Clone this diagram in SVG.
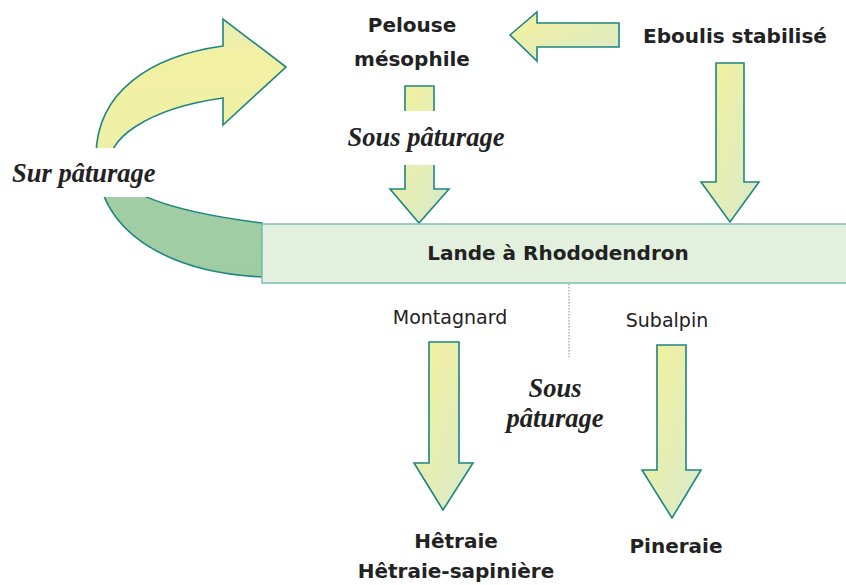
<svg xmlns="http://www.w3.org/2000/svg" width="846" height="585" viewBox="0 0 846 585">
  <defs>
    <linearGradient id="gArrow" x1="0" y1="0" x2="1" y2="1">
      <stop offset="0" stop-color="#f5f19a"/>
      <stop offset="1" stop-color="#d8eacb"/>
    </linearGradient>
    <linearGradient id="gCurve" gradientUnits="userSpaceOnUse" x1="0" y1="19" x2="0" y2="277">
      <stop offset="0" stop-color="#e8edb8"/>
      <stop offset="0.15" stop-color="#f2f0a2"/>
      <stop offset="0.5" stop-color="#eef0a8"/>
      <stop offset="0.56" stop-color="#a2cfa6"/>
      <stop offset="1" stop-color="#a0cca4"/>
    </linearGradient>
    <style>
      .arr { fill: url(#gArrow); stroke: #1d8680; stroke-width: 1.6; stroke-linejoin: miter; }
      .curve { fill: url(#gCurve); stroke: #1d8680; stroke-width: 1.6; }
      .box { fill: #e3f0dd; stroke: #86c2b2; stroke-width: 1.6; }
      .lbl { font-family: "DejaVu Sans", sans-serif; font-weight: bold; font-size: 20px; fill: #222; text-anchor: middle; }
      .small { font-family: "DejaVu Sans", sans-serif; font-size: 19px; fill: #222; text-anchor: middle; }
      .it { font-family: "Liberation Serif", "Times New Roman", serif; font-weight: bold; font-style: italic; font-size: 26.5px; fill: #222; }
      .mask { fill: #ffffff; }
      .dot { stroke: #888; stroke-width: 1; stroke-dasharray: 1.5 1.5; fill: none; }
    </style>
  </defs>

  <g id="connectors">
    <!-- curved Sur pâturage arrow -->
    <path class="curve" d="M 286,67 L 223,19 L 223,46 C 150,56 97,92 96,155 C 97,240 180,273 262,277 L 262,223 C 190,214 125,198 112,170 C 100,140 150,108 223,98 L 223,125 Z"/>
    <rect class="mask" x="4" y="148" width="160" height="49"/>
    <text class="it" x="12" y="182">Sur pâturage</text>

    <!-- Eboulis -> Pelouse -->
    <path class="arr" d="M 510,35 L 537,12 L 537,23 L 619,23 L 619,47 L 537,47 L 537,61 Z"/>

    <!-- Pelouse -> Lande -->
    <path class="arr" d="M 405,86 L 434,86 L 434,189 L 449,189 L 419,223 L 390,189 L 405,189 Z"/>
    <rect class="mask" x="340" y="111" width="172" height="54"/>
    <text class="it" x="426" y="146" text-anchor="middle">Sous pâturage</text>

    <!-- Eboulis -> Lande -->
    <path class="arr" d="M 716,63 L 744,63 L 744,182 L 759,182 L 730,222 L 701,182 L 716,182 Z"/>

    <!-- Lande -> Hêtraie -->
    <path class="arr" d="M 429,342 L 459,342 L 459,463 L 473,463 L 443,510 L 414,463 L 429,463 Z"/>

    <!-- Lande -> Pineraie -->
    <path class="arr" d="M 657,345 L 686,345 L 686,470 L 701,470 L 672,518 L 642,470 L 657,470 Z"/>

    <line class="dot" x1="569" y1="284" x2="569" y2="357"/>
    <text class="it" x="555" y="397" text-anchor="middle">Sous</text>
    <text class="it" x="555" y="427" text-anchor="middle">pâturage</text>
  </g>

  <g id="node-lande">
    <rect class="box" x="262" y="224" width="590" height="59"/>
    <text class="lbl" x="558" y="260">Lande à Rhododendron</text>
  </g>

  <g id="node-pelouse">
    <text class="lbl" x="412" y="32">Pelouse</text>
    <text class="lbl" x="412" y="66">mésophile</text>
  </g>

  <g id="node-eboulis">
    <text class="lbl" x="735" y="43">Eboulis stabilisé</text>
  </g>

  <g id="label-montagnard">
    <text class="small" x="450" y="324">Montagnard</text>
  </g>

  <g id="label-subalpin">
    <text class="small" x="667" y="327">Subalpin</text>
  </g>

  <g id="node-hetraie">
    <text class="lbl" x="456" y="548">Hêtraie</text>
    <text class="lbl" x="456" y="578">Hêtraie-sapinière</text>
  </g>

  <g id="node-pineraie">
    <text class="lbl" x="676" y="553">Pineraie</text>
  </g>
</svg>
